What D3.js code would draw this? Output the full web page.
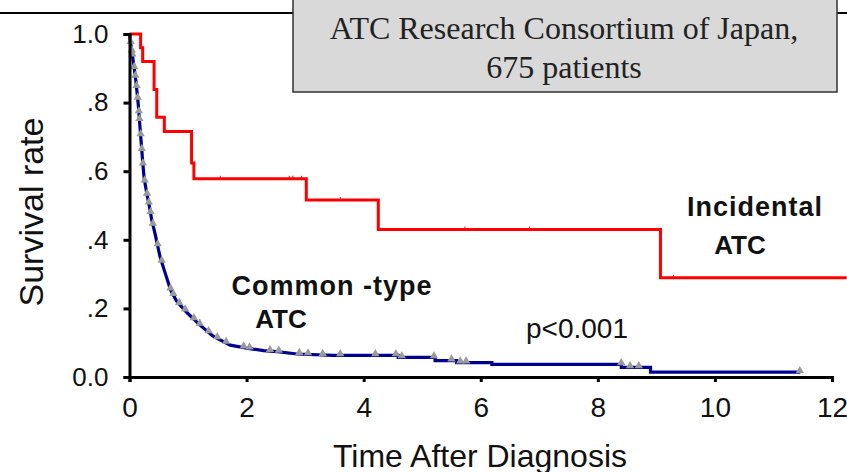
<!DOCTYPE html>
<html><head><meta charset="utf-8">
<script src="https://cdn.jsdelivr.net/npm/d3@7"></script>
<style>html,body{margin:0;padding:0;background:#fff;overflow:hidden}</style>
</head><body>
<svg id="c" width="847" height="472"></svg>
<script>
// ---- data ----
const xTicks = [0, 2, 4, 6, 8, 10, 12];
const yTicks = [0, 0.2, 0.4, 0.6, 0.8, 1.0];
const yTickLabels = ["0.0", ".2", ".4", ".6", ".8", "1.0"];

// Incidental ATC (step function: value holds from time until next time)
const incTimes  = [0, 0.19, 0.225, 0.42, 0.465, 0.595, 1.06, 1.10, 3.02, 4.25, 9.07, 12.25];
const incValues = [1.0, 0.96, 0.92, 0.838, 0.757, 0.716, 0.624, 0.578, 0.516, 0.43, 0.289, 0.289];
const incCensor = [1.55, 2.73, 2.79, 2.94, 3.6, 5.73, 6.83, 9.29];

// Common-type ATC
const comTimes  = [0, 0.03, 0.065, 0.11, 0.15, 0.18, 0.225, 0.25, 0.29, 0.34, 0.38, 0.44, 0.52, 0.6, 0.7, 0.8, 0.98, 1.2, 1.42, 1.72, 2.0, 2.29, 2.52, 2.86, 3.48, 4.59, 4.59, 5.22, 5.22, 5.59, 5.59, 6.19, 6.19, 8.40, 8.40, 8.90, 8.90, 11.46];
const comValues = [1.0, 0.96, 0.92, 0.862, 0.794, 0.726, 0.629, 0.58, 0.54, 0.497, 0.458, 0.415, 0.352, 0.308, 0.255, 0.222, 0.188, 0.152, 0.12, 0.093, 0.084, 0.077, 0.074, 0.067, 0.063, 0.063, 0.057, 0.057, 0.048, 0.048, 0.042, 0.042, 0.037, 0.037, 0.028, 0.028, 0.014, 0.014];
const comCensor = [0.02, 0.04, 0.05, 0.08, 0.1, 0.12, 0.14, 0.16, 0.17, 0.19, 0.21, 0.23, 0.26, 0.3, 0.33, 0.36, 0.4, 0.48, 0.55, 0.7, 0.75, 0.85, 0.95, 1.1, 1.2, 1.35, 1.5, 1.65, 1.95, 2.05, 2.4, 2.55, 2.9, 3.05, 3.3, 3.6, 4.2, 4.55, 4.65, 5.2, 5.5, 5.65, 5.75, 8.4, 8.55, 8.7, 11.45];

// ---- drawing ----
const svg = d3.select("#c");
const x = d3.scaleLinear().domain([0, 12]).range([129.5, 832]);
const y = d3.scaleLinear().domain([0, 1]).range([377, 34]);
const sans = "Liberation Sans, Arial, Helvetica, sans-serif";

// top rule
svg.append("line").attr("x1", 0).attr("x2", 847).attr("y1", 13).attr("y2", 13)
  .attr("stroke", "#000").attr("stroke-width", 2);

// survival curves
const inc = incTimes.map((t, i) => [t, incValues[i]]);
const com = comTimes.map((t, i) => [t, comValues[i]]);

svg.append("path").datum(inc)
  .attr("d", d3.line().x(d => x(d[0])).y(d => y(d[1])).curve(d3.curveStepAfter))
  .attr("fill", "none").attr("stroke", "#ff0000").attr("stroke-width", 3);

function stepVal(t) {
  let v = incValues[0];
  for (let i = 0; i < incTimes.length; i++) if (incTimes[i] <= t) v = incValues[i];
  return v;
}
svg.append("g").selectAll("line").data(incCensor).join("line")
  .attr("x1", d => x(d)).attr("x2", d => x(d))
  .attr("y1", d => y(stepVal(d)) - 3).attr("y2", d => y(stepVal(d)))
  .attr("stroke", "#ff0000").attr("stroke-width", 1);

svg.append("path").datum(com)
  .attr("d", d3.line().x(d => x(d[0])).y(d => y(d[1])))
  .attr("fill", "none").attr("stroke", "#000090").attr("stroke-width", 3.2);

function comVal(t) {
  for (let i = 1; i < comTimes.length; i++) {
    if (comTimes[i] >= t) {
      const t0 = comTimes[i - 1], t1 = comTimes[i];
      if (t1 === t0) return comValues[i - 1];
      const f = (t - t0) / (t1 - t0);
      return comValues[i - 1] + f * (comValues[i] - comValues[i - 1]);
    }
  }
  return comValues[comValues.length - 1];
}
const tri = d3.symbol().type(d3.symbolTriangle).size(30);
svg.append("g").selectAll("path").data(comCensor).join("path")
  .attr("d", tri)
  .attr("transform", d => `translate(${x(d)},${y(comVal(d)) - 1.5})`)
  .attr("fill", "#9a9a9a");

// axes
const gy = svg.append("g").attr("transform", `translate(${x(0)},0)`)
  .call(d3.axisLeft(y).tickValues(yTicks).tickFormat((d, i) => yTickLabels[i]).tickSizeOuter(0).tickSize(6).tickPadding(15));
const gx = svg.append("g").attr("transform", `translate(0,${y(0)})`)
  .call(d3.axisBottom(x).tickValues(xTicks).tickFormat(d3.format("d")).tickSizeOuter(0).tickSize(5).tickPadding(15));
[gx, gy].forEach(g => {
  g.select(".domain").attr("stroke", "#000").attr("stroke-width", 3);
  g.selectAll(".tick line").attr("stroke", "#000").attr("stroke-width", 3);
  g.selectAll(".tick text").attr("fill", "#111").style("font-family", sans).style("font-size", "26px");
});
gx.selectAll(".tick text").style("font-size", "28px");

// axis titles
svg.append("text").attr("x", 480).attr("y", 467).attr("text-anchor", "middle")
  .style("font-family", sans).style("font-size", "32px").attr("fill", "#111")
  .text("Time After Diagnosis");
svg.append("text").attr("transform", "translate(43,212) rotate(-90)").attr("text-anchor", "middle")
  .style("font-family", sans).style("font-size", "34px").attr("fill", "#111")
  .text("Survival rate");

// annotations
function label(tx, ty, s, bold, size, ls) {
  svg.append("text").attr("x", tx).attr("y", ty).attr("text-anchor", "middle")
    .style("font-family", sans).style("font-size", size + "px")
    .style("letter-spacing", ls + "px")
    .style("font-weight", bold ? "bold" : "normal").attr("fill", "#111").text(s);
}
label(755, 216, "Incidental", true, 27, 1);
label(740, 254, "ATC", true, 26, 0);
label(332, 295, "Common -type", true, 27, 1);
label(281, 328, "ATC", true, 26, 0);
label(577, 338, "p<0.001", false, 28, 0);

// title box
svg.append("rect").attr("x", 293).attr("y", -2).attr("width", 544).attr("height", 94)
  .attr("fill", "#d9d9d9").attr("stroke", "#333").attr("stroke-width", 1.5);
const serif = "Liberation Serif, Times New Roman, serif";
svg.append("text").attr("x", 564).attr("y", 39).attr("text-anchor", "middle")
  .style("font-family", serif).style("font-size", "32px").attr("fill", "#222")
  .text("ATC Research Consortium of Japan,");
svg.append("text").attr("x", 564).attr("y", 78).attr("text-anchor", "middle")
  .style("font-family", serif).style("font-size", "32px").attr("fill", "#222")
  .text("675 patients");
</script>
</body></html>
